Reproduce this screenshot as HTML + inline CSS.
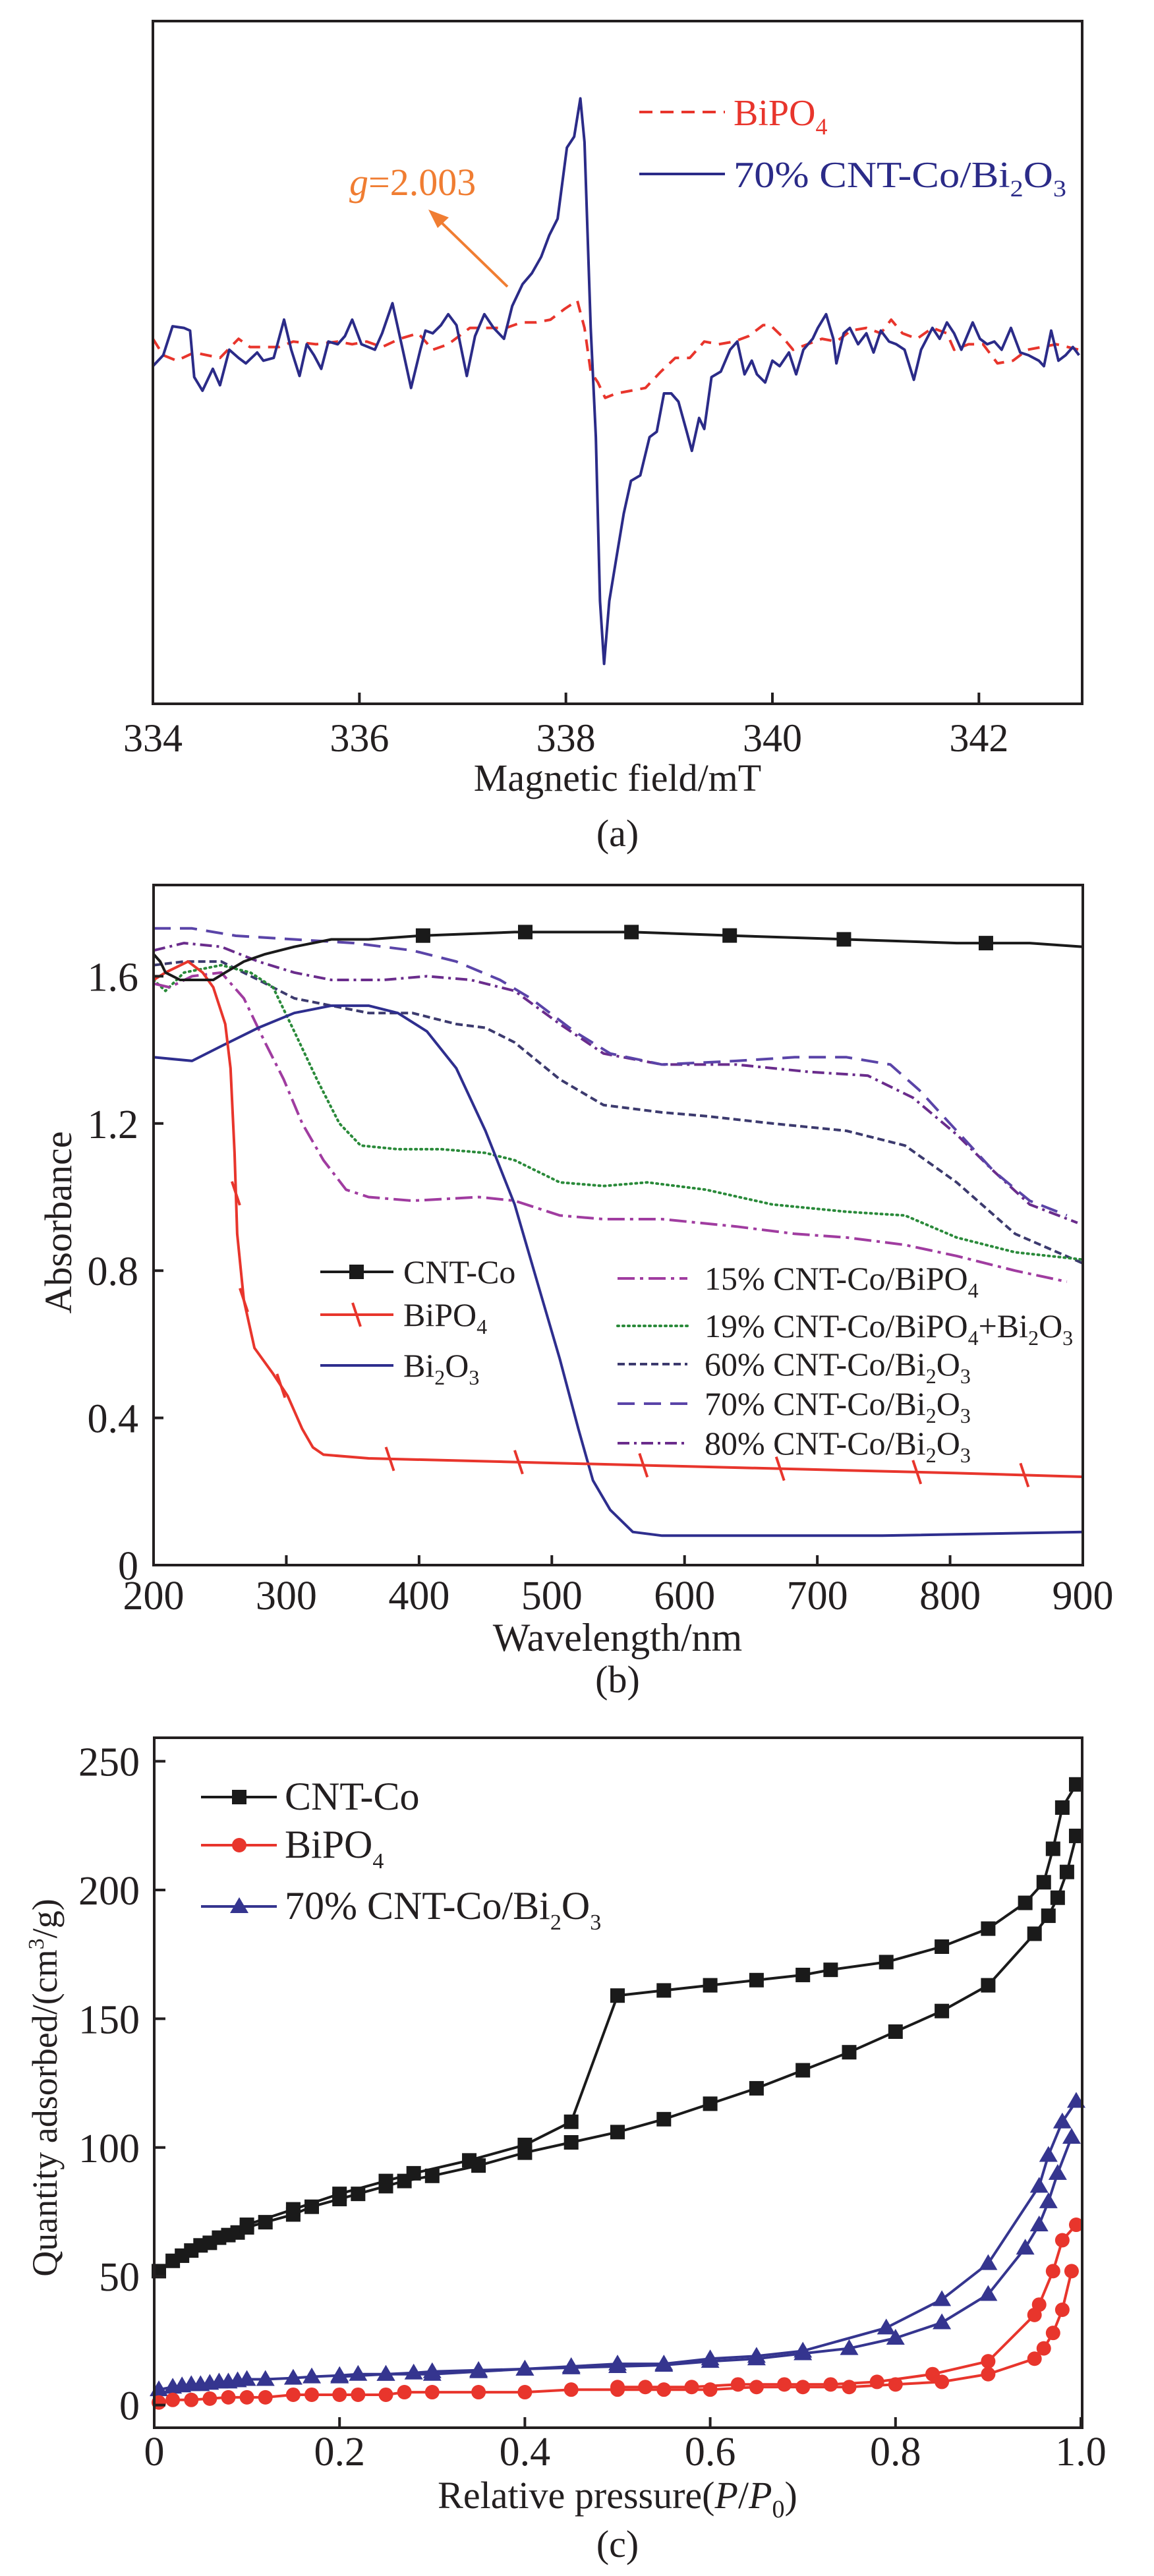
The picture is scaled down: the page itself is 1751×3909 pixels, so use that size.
<!DOCTYPE html>
<html><head><meta charset="utf-8">
<style>
html,body{margin:0;padding:0;background:#fff;}
svg{display:block;font-family:"Liberation Serif","Times New Roman",serif;}
</style></head>
<body>
<svg id="fig" width="1751" height="3909" viewBox="0 0 1751 3909" xmlns="http://www.w3.org/2000/svg">
<rect x="0" y="0" width="1751" height="3909" fill="#fff"/>

<!-- Panel A static -->
<g>
  <g id="a-plot"></g>
  <rect x="232" y="32" width="1410" height="1036" fill="none" stroke="#231f20" stroke-width="4"/>
  <g id="a-axis" font-size="60" fill="#231f20" text-anchor="middle"></g>
  <text x="937" y="1200" font-size="58" text-anchor="middle" fill="#231f20">Magnetic field/mT</text>
  <text x="937" y="1284" font-size="58" text-anchor="middle" fill="#231f20">(a)</text>
  <g>
    <line x1="970" y1="170" x2="1100" y2="170" stroke="#e8352c" stroke-width="4" stroke-dasharray="20 12"/>
    <text x="1113" y="190" font-size="56" fill="#e8352c">BiPO<tspan font-size="36" dy="14">4</tspan></text>
    <line x1="970" y1="264" x2="1100" y2="264" stroke="#2b2b88" stroke-width="4"/>
    <text x="1113" y="284" font-size="56" fill="#2b2b88" textLength="505" lengthAdjust="spacingAndGlyphs">70% CNT-Co/Bi<tspan font-size="36" dy="14">2</tspan><tspan dy="-14">O</tspan><tspan font-size="36" dy="14">3</tspan></text>
  </g>
  <text x="530" y="296" font-size="58" fill="#f07d32"><tspan font-style="italic">g</tspan>=2.003</text>
  <line x1="770" y1="435" x2="668" y2="336" stroke="#f07d32" stroke-width="4"/>
  <polygon points="650,318 681,330 664,346" fill="#f07d32"/>
</g>

<!-- Panel B static -->
<g>
  <g id="b-plot"></g>
  <rect x="233" y="1343" width="1410" height="1032" fill="none" stroke="#231f20" stroke-width="4"/>
  <g id="b-axis" font-size="62" fill="#231f20"></g>
  <text x="937" y="2505" font-size="60" text-anchor="middle" fill="#231f20">Wavelength/nm</text>
  <text transform="translate(108,1855) rotate(-90)" font-size="58" text-anchor="middle" fill="#231f20">Absorbance</text>
  <text x="937" y="2568" font-size="58" text-anchor="middle" fill="#231f20">(b)</text>
  <g id="b-legend" font-size="50" fill="#231f20"></g>
</g>

<!-- Panel C static -->
<g>
  <g id="c-plot"></g>
  <rect x="234" y="2637" width="1408" height="1047" fill="none" stroke="#231f20" stroke-width="4"/>
  <g id="c-axis" font-size="62" fill="#231f20"></g>
  <text x="937" y="3806" font-size="58" text-anchor="middle" fill="#231f20">Relative pressure(<tspan font-style="italic">P</tspan>/<tspan font-style="italic">P</tspan><tspan font-size="38" dy="14">0</tspan><tspan dy="-14">)</tspan></text>
  <text transform="translate(86,3168) rotate(-90)" font-size="54" text-anchor="middle" fill="#231f20">Quantity adsorbed/(cm<tspan font-size="34" dy="-20">3</tspan><tspan dy="20">/g)</tspan></text>
  <text x="937" y="3880" font-size="58" text-anchor="middle" fill="#231f20">(c)</text>
  <g id="c-legend" font-size="52" fill="#231f20"></g>
</g>
</svg>

<script>
// ---------------- Panel A data (EPR) ----------------
const aTicks = [334, 336, 338, 340, 342];
const aBlueField = [334.00,334.10,334.19,334.30,334.36,334.40,334.48,334.58,334.65,334.74,334.83,334.90,335.01,335.07,335.17,335.27,335.34,335.42,335.49,335.56,335.63,335.70,335.79,335.86,335.93,336.02,336.15,336.22,336.32,336.42,336.50,336.59,336.64,336.71,336.79,336.86,336.94,337.04,337.12,337.21,337.30,337.40,337.48,337.58,337.67,337.76,337.84,337.92,338.01,338.08,338.14,338.18,338.24,338.29,338.33,338.37,338.42,338.49,338.56,338.63,338.72,338.81,338.88,338.95,339.02,339.09,339.17,339.22,339.29,339.34,339.41,339.50,339.59,339.66,339.73,339.80,339.85,339.93,340.00,340.07,340.16,340.23,340.30,340.39,340.44,340.52,340.59,340.62,340.69,340.75,340.83,340.91,340.98,341.05,341.13,341.20,341.28,341.37,341.44,341.55,341.62,341.69,341.76,341.83,341.94,342.01,342.08,342.15,342.22,342.31,342.40,342.48,342.58,342.63,342.70,342.77,342.84,342.91,342.97];
const aBlueInt = [-20,0,53,50,45,-40,-65,-25,-55,10,-5,-15,5,-10,-5,65,10,-38,20,0,-25,25,20,35,65,20,10,40,95,10,-60,10,45,40,55,75,55,-38,35,75,50,30,90,130,150,180,220,250,380,400,470,390,50,-150,-450,-565,-450,-370,-290,-230,-220,-150,-140,-70,-70,-85,-140,-175,-115,-135,-40,-30,10,25,-35,-10,-35,-50,-10,-20,5,-35,10,30,50,75,30,-15,40,50,20,40,5,45,25,20,10,-45,10,50,30,60,40,10,60,30,20,25,10,50,5,0,-10,-20,45,-10,0,15,0];
const aRedField = [334.00,334.10,334.23,334.40,334.65,334.83,334.94,335.22,335.36,335.58,335.79,335.93,336.07,336.22,336.39,336.57,336.71,336.86,337.07,337.21,337.42,337.57,337.71,337.85,337.99,338.11,338.18,338.24,338.31,338.38,338.49,338.63,338.77,338.92,339.06,339.20,339.34,339.48,339.63,339.77,339.91,339.98,340.09,340.20,340.34,340.48,340.62,340.76,340.91,341.05,341.15,341.26,341.40,341.55,341.69,341.76,341.90,342.04,342.18,342.33,342.47,342.61,342.75,342.97];
const aRedInt = [30,0,-10,5,-5,30,15,15,25,20,25,20,25,15,30,40,10,20,50,50,50,60,60,65,85,100,50,-30,-50,-78,-70,-65,-60,-30,-5,-5,25,20,25,35,55,55,35,10,20,30,25,45,50,40,65,40,30,50,40,10,20,20,-15,-10,10,15,20,10];

// ---------------- Panel B data (UV-vis) ----------------
const bXTicks = [200,300,400,500,600,700,800,900];
const bYTicks = [0,0.4,0.8,1.2,1.6];
const bYTickLabels = ["0","0.4","0.8","1.2","1.6"];
const cntNm = [200,205,209,220,245,254,268,284,306,334,362,400,472,561,639,722,805,860,900];
const cntAbs = [1.66,1.64,1.61,1.59,1.59,1.61,1.64,1.66,1.68,1.70,1.70,1.71,1.72,1.72,1.71,1.70,1.69,1.69,1.68];
const cntMarkNm = [403,480,560,634,720,827];
const bipoNm = [200,209,226,237,245,254,258,261,263,268,276,290,301,312,320,328,362,472,583,694,805,900];
const bipoAbs = [1.59,1.61,1.64,1.61,1.57,1.47,1.35,1.12,0.90,0.72,0.59,0.52,0.46,0.37,0.32,0.30,0.29,0.28,0.27,0.26,0.25,0.24];
const bipoMarkNm = [262,268,296,378,475,569,672,775,856];
const bi2o3Nm = [200,229,251,279,306,334,362,384,406,428,450,472,489,506,520,531,544,561,583,639,749,900];
const bi2o3Abs = [1.38,1.37,1.41,1.46,1.50,1.52,1.52,1.50,1.45,1.35,1.18,0.98,0.77,0.56,0.37,0.23,0.15,0.09,0.08,0.08,0.08,0.09];
const p15Nm = [200,212,229,251,268,284,298,312,328,345,362,395,445,472,506,539,583,639,683,722,766,805,849,888];
const p15Abs = [1.58,1.57,1.60,1.61,1.54,1.42,1.32,1.20,1.10,1.02,1.00,0.99,1.00,0.99,0.95,0.94,0.94,0.92,0.90,0.89,0.87,0.84,0.80,0.77];
const p19Nm = [200,209,223,251,273,290,306,323,340,356,384,417,450,472,506,539,572,616,666,722,766,805,849,900];
const p19Abs = [1.59,1.56,1.61,1.63,1.61,1.57,1.45,1.32,1.20,1.14,1.13,1.13,1.12,1.10,1.04,1.03,1.04,1.02,0.98,0.96,0.95,0.89,0.85,0.83];
const p60Nm = [200,223,251,279,306,334,362,395,428,450,472,506,539,583,616,666,722,766,805,849,900];
const p60Abs = [1.63,1.64,1.64,1.59,1.54,1.52,1.50,1.50,1.47,1.46,1.42,1.32,1.25,1.23,1.22,1.20,1.18,1.14,1.04,0.90,0.82];
const p70Nm = [200,229,262,306,351,395,428,461,484,517,544,583,639,683,722,755,777,805,833,860,888];
const p70Abs = [1.73,1.73,1.71,1.70,1.69,1.67,1.64,1.59,1.54,1.45,1.39,1.36,1.37,1.38,1.38,1.36,1.29,1.18,1.07,0.99,0.95];
const p80Nm = [200,223,251,279,306,334,373,406,439,472,506,539,583,639,694,738,772,805,833,860,896];
const p80Abs = [1.67,1.69,1.68,1.64,1.61,1.59,1.59,1.60,1.59,1.56,1.47,1.39,1.36,1.36,1.34,1.33,1.27,1.17,1.07,0.98,0.93];

// ---------------- Panel C data (N2 isotherms) ----------------
const cXTicks = [0,0.2,0.4,0.6,0.8,1.0];
const cXTickLabels = ["0","0.2","0.4","0.6","0.8","1.0"];
const cYTicks = [0,50,100,150,200,250];
const cntAdsP = [0.005,0.02,0.03,0.04,0.05,0.06,0.07,0.08,0.09,0.10,0.12,0.15,0.17,0.20,0.22,0.25,0.27,0.30,0.35,0.40,0.45,0.50,0.55,0.60,0.65,0.70,0.75,0.80,0.85,0.90,0.95,0.965,0.975,0.985,0.995];
const cntAdsQ = [52,56,58,60,62,63,65,66,67,69,71,74,77,80,82,85,87,89,93,98,102,106,111,117,123,130,137,145,153,163,183,190,197,207,221];
const cntDesP = [0.995,0.98,0.97,0.96,0.94,0.90,0.85,0.79,0.73,0.70,0.65,0.60,0.55,0.50,0.45,0.40,0.34,0.28,0.25,0.20,0.15,0.10];
const cntDesQ = [241,232,216,203,195,185,178,172,169,167,165,163,161,159,110,101,95,90,87,82,76,70];
const biAdsP = [0.005,0.02,0.04,0.06,0.08,0.10,0.12,0.15,0.17,0.20,0.22,0.25,0.27,0.30,0.35,0.40,0.45,0.50,0.55,0.60,0.65,0.70,0.75,0.80,0.85,0.90,0.95,0.96,0.97,0.98,0.99];
const biAdsQ = [1,2,2,2.5,3,3,3,4,4,4,4,4,5,5,5,5,6,6,6,6,7,7,7,8,9,12,18,22,28,37,52];
const biDesP = [0.995,0.98,0.97,0.955,0.95,0.90,0.84,0.78,0.73,0.68,0.63,0.58,0.53,0.50];
const biDesQ = [70,64,52,39,35,17,12,9,8,8,8,7,7,7];
const bo70AdsP = [0.005,0.02,0.03,0.04,0.05,0.06,0.07,0.08,0.09,0.10,0.12,0.15,0.17,0.20,0.22,0.25,0.28,0.30,0.35,0.40,0.45,0.50,0.55,0.60,0.65,0.70,0.75,0.80,0.85,0.90,0.94,0.955,0.965,0.975,0.99];
const bo70AdsQ = [6,7,7.5,8,8,8.5,9,9,9.5,10,10,10.5,11,11.5,12,12,12.5,13,13.5,14,14.5,15,15.5,17,18,20,22,26,32,43,61,70,79,90,104];
const bo70DesP = [0.995,0.98,0.965,0.955,0.90,0.85,0.79,0.70,0.65,0.60,0.55,0.50,0.45,0.40,0.35,0.30,0.25,0.20];
const bo70DesQ = [118,110,97,85,55,41,30,21,19,18,16,16,15,14,13,12,12,11];

const NS = "http://www.w3.org/2000/svg";
function mk(tag, attrs, parent){
  const e = document.createElementNS(NS, tag);
  for (const k in attrs) e.setAttribute(k, attrs[k]);
  parent.appendChild(e);
  return e;
}
function linear(d0,d1,r0,r1){ return v => r0 + (v-d0)*(r1-r0)/(d1-d0); }
function pathD(xs, ys, sx, sy){
  let d = "";
  for (let i=0;i<xs.length;i++) d += (i?"L":"M") + sx(xs[i]).toFixed(1) + "," + sy(ys[i]).toFixed(1);
  return d;
}
function interp(xs, ys, x){
  for (let i=0;i<xs.length-1;i++){
    if (x>=xs[i] && x<=xs[i+1]) return ys[i] + (ys[i+1]-ys[i])*(x-xs[i])/(xs[i+1]-xs[i]);
  }
  return ys[ys.length-1];
}

// ===== Panel A =====
(function(){
  const sx = linear(334, 343, 232, 1642);
  const sy = linear(0, 1, 539, 538.171); // 0.829 px per intensity unit
  const plot = document.getElementById('a-plot');
  const axis = document.getElementById('a-axis');
  const red = mk('path', {d: pathD(aRedField, aRedInt, sx, sy), fill:'none', stroke:'#e8352c', 'stroke-width':4, 'stroke-dasharray':'18 12', 'stroke-linejoin':'round'}, plot);
  
  
  const blue = mk('path', {d: pathD(aBlueField, aBlueInt, sx, sy), fill:'none', stroke:'#2b2b88', 'stroke-width':4, 'stroke-linejoin':'round'}, plot);
  
  
  aTicks.forEach(t => {
    const x = sx(t);
    const tk = mk('line', {x1:x, y1:1068, x2:x, y2:1051, stroke:'#231f20', 'stroke-width':4}, axis);
    
    
    const lb = mk('text', {x:x, y:1140}, axis);
    lb.textContent = t;
    
    
  });
})();

// ===== Panel B =====
(function(){
  const sx = linear(200, 900, 233, 1643);
  const sy = linear(0, 0.4, 2375, 2151.6);
  const plot = document.getElementById('b-plot');
  const axis = document.getElementById('b-axis');
  const series = [
    {n:'series-80pct', xs:p80Nm, ys:p80Abs, c:'#6a2c8c', dash:'18 7 4 7'},
    {n:'series-70pct', xs:p70Nm, ys:p70Abs, c:'#5a44a8', dash:'26 14'},
    {n:'series-60pct', xs:p60Nm, ys:p60Abs, c:'#3c3a6e', dash:'11 6'},
    {n:'series-19pct', xs:p19Nm, ys:p19Abs, c:'#2a8a3a', dash:'2 6', cap:'round'},
    {n:'series-15pct', xs:p15Nm, ys:p15Abs, c:'#a03ca0', dash:'26 8 5 8'},
    {n:'series-bi2o3', xs:bi2o3Nm, ys:bi2o3Abs, c:'#2e2e8e', dash:''},
    {n:'series-bipo4', xs:bipoNm, ys:bipoAbs, c:'#e8352c', dash:''},
    {n:'series-cnt-co', xs:cntNm, ys:cntAbs, c:'#1a1a1a', dash:''}
  ];
  series.forEach(s => {
    const p = mk('path', {d: pathD(s.xs, s.ys, sx, sy), fill:'none', stroke:s.c, 'stroke-width':4, 'stroke-linejoin':'round', 'stroke-linecap': s.cap||'butt'}, plot);
    if (s.dash) p.setAttribute('stroke-dasharray', s.dash);
    
    
  });
  bipoMarkNm.forEach(w => {
    const x = sx(w), y = sy(interp(bipoNm, bipoAbs, w));
    const m = mk('line', {x1:x-6, y1:y-18, x2:x+6, y2:y+18, stroke:'#e8352c', 'stroke-width':4}, plot);
    
    
  });
  cntMarkNm.forEach(w => {
    const x = sx(w), y = sy(interp(cntNm, cntAbs, w));
    const m = mk('rect', {x:x-11, y:y-11, width:22, height:22, fill:'#1a1a1a'}, plot);
    
    
  });
  bXTicks.forEach(t => {
    const x = sx(t);
    const tk = mk('line', {x1:x, y1:2375, x2:x, y2:2360, stroke:'#231f20', 'stroke-width':4}, axis);
    
    
    const lb = mk('text', {x:x, y:2442, 'text-anchor':'middle'}, axis);
    lb.textContent = t;
    
    
  });
  bYTicks.forEach((t,i) => {
    const y = sy(t);
    const tk = mk('line', {x1:233, y1:y, x2:248, y2:y, stroke:'#231f20', 'stroke-width':4}, axis);
    
    
    const lb = mk('text', {x:210, y:y+22, 'text-anchor':'end'}, axis);
    lb.textContent = bYTickLabels[i];
    
    
  });
  // legend
  const lg = document.getElementById('b-legend');
  const left = [
    {y:1930, c:'#1a1a1a', label:'CNT-Co', n:'legend-cnt-co', mark:'sq'},
    {y:1995, c:'#e8352c', label:'BiPO4', n:'legend-bipo4', mark:'slash'},
    {y:2072, c:'#2e2e8e', label:'Bi2O3', n:'legend-bi2o3', mark:''}
  ];
  left.forEach(e => {
    const g = mk('g', {}, lg);
    
    
    mk('line', {x1:486, y1:e.y, x2:597, y2:e.y, stroke:e.c, 'stroke-width':4}, g);
    if (e.mark==='sq') mk('rect', {x:530, y:e.y-11, width:22, height:22, fill:e.c}, g);
    if (e.mark==='slash') mk('line', {x1:535, y1:e.y-18, x2:547, y2:e.y+18, stroke:e.c, 'stroke-width':4}, g);
    const t = mk('text', {x:612, y:e.y+17}, g);
    t.innerHTML = e.label.replace('PO4','PO<tspan font-size="32" dy="12">4</tspan>').replace('Bi2O3','Bi<tspan font-size="32" dy="12">2</tspan><tspan dy="-12">O</tspan><tspan font-size="32" dy="12">3</tspan>');
  });
  const right = [
    {y:1940, c:'#a03ca0', dash:'26 8 5 8', html:'15% CNT-Co/BiPO<tspan font-size="32" dy="12">4</tspan>', n:'legend-15pct'},
    {y:2012, c:'#2a8a3a', dash:'2 6', cap:'round', html:'19% CNT-Co/BiPO<tspan font-size="32" dy="12">4</tspan><tspan dy="-12">+Bi</tspan><tspan font-size="32" dy="12">2</tspan><tspan dy="-12">O</tspan><tspan font-size="32" dy="12">3</tspan>', n:'legend-19pct'},
    {y:2070, c:'#3c3a6e', dash:'11 6', html:'60% CNT-Co/Bi<tspan font-size="32" dy="12">2</tspan><tspan dy="-12">O</tspan><tspan font-size="32" dy="12">3</tspan>', n:'legend-60pct'},
    {y:2130, c:'#5a44a8', dash:'26 14', html:'70% CNT-Co/Bi<tspan font-size="32" dy="12">2</tspan><tspan dy="-12">O</tspan><tspan font-size="32" dy="12">3</tspan>', n:'legend-70pct'},
    {y:2190, c:'#6a2c8c', dash:'18 7 4 7', html:'80% CNT-Co/Bi<tspan font-size="32" dy="12">2</tspan><tspan dy="-12">O</tspan><tspan font-size="32" dy="12">3</tspan>', n:'legend-80pct'}
  ];
  right.forEach(e => {
    const g = mk('g', {}, lg);
    
    
    mk('line', {x1:937, y1:e.y, x2:1043, y2:e.y, stroke:e.c, 'stroke-width':4, 'stroke-dasharray':e.dash, 'stroke-linecap':e.cap||'butt'}, g);
    const t = mk('text', {x:1069, y:e.y+17}, g);
    t.innerHTML = e.html;
  });
})();

// ===== Panel C =====
(function(){
  const sx = linear(0, 1, 234, 1640);
  const sy = linear(0, 250, 3649.6, 2672.6);
  const plot = document.getElementById('c-plot');
  const axis = document.getElementById('c-axis');
  const cols = {cnt:'#1a1a1a', bi:'#e8352c', bo:'#35358f'};
  function marker(kind, x, y, c, parent){
    if (kind==='sq') return mk('rect', {x:x-11, y:y-11, width:22, height:22, fill:c}, parent);
    if (kind==='ci') return mk('circle', {cx:x, cy:y, r:11, fill:c}, parent);
    return mk('polygon', {points:(x-14)+','+(y+10)+' '+(x+14)+','+(y+10)+' '+x+','+(y-14), fill:c}, parent);
  }
  const sets = [
    {xs:bo70AdsP, ys:bo70AdsQ, c:cols.bo, k:'tr', n:'bi2o3-70pct-adsorption'},
    {xs:bo70DesP, ys:bo70DesQ, c:cols.bo, k:'tr', n:'bi2o3-70pct-desorption'},
    {xs:biAdsP, ys:biAdsQ, c:cols.bi, k:'ci', n:'bipo4-adsorption'},
    {xs:biDesP, ys:biDesQ, c:cols.bi, k:'ci', n:'bipo4-desorption'},
    {xs:cntAdsP, ys:cntAdsQ, c:cols.cnt, k:'sq', n:'cnt-co-adsorption'},
    {xs:cntDesP, ys:cntDesQ, c:cols.cnt, k:'sq', n:'cnt-co-desorption'}
  ];
  sets.forEach(s => {
    const g = mk('g', {}, plot);
    
    
    const p = mk('path', {d: pathD(s.xs, s.ys, sx, sy), fill:'none', stroke:s.c, 'stroke-width':4, 'stroke-linejoin':'round'}, g);
    
    
    s.xs.forEach((px,i) => {
      const m = marker(s.k, sx(px), sy(s.ys[i]), s.c, g);
      
      
    });
  });
  cXTicks.forEach((t,i) => {
    const x = sx(t);
    const tk = mk('line', {x1:x, y1:3684, x2:x, y2:3668, stroke:'#231f20', 'stroke-width':4}, axis);
    
    
    const lb = mk('text', {x:x, y:3741, 'text-anchor':'middle'}, axis);
    lb.textContent = cXTickLabels[i];
    
    
  });
  cYTicks.forEach(t => {
    const y = sy(t);
    const tk = mk('line', {x1:234, y1:y, x2:251, y2:y, stroke:'#231f20', 'stroke-width':4}, axis);
    
    
    const lb = mk('text', {x:212, y:y+22, 'text-anchor':'end'}, axis);
    lb.textContent = t;
    
    
  });
  const lg = document.getElementById('c-legend');
  const items = [
    {y:2727, c:cols.cnt, k:'sq', n:'legend-cnt-co', html:'CNT-Co', len:215},
    {y:2800, c:cols.bi, k:'ci', n:'legend-bipo4', html:'BiPO<tspan font-size="34" dy="16">4</tspan>', len:0},
    {y:2893, c:cols.bo, k:'tr', n:'legend-70pct', html:'70% CNT-Co/Bi<tspan font-size="34" dy="16">2</tspan><tspan dy="-16">O</tspan><tspan font-size="34" dy="16">3</tspan>', len:0}
  ];
  items.forEach(e => {
    const g = mk('g', {}, lg);
    
    
    mk('line', {x1:305, y1:e.y, x2:420, y2:e.y, stroke:e.c, 'stroke-width':4}, g);
    marker(e.k, 363, e.y, e.c, g);
    const t = mk('text', {x:432, y:e.y+19, 'font-size':60}, g);
    t.innerHTML = e.html;
  });
})();
</script>
</body></html>
